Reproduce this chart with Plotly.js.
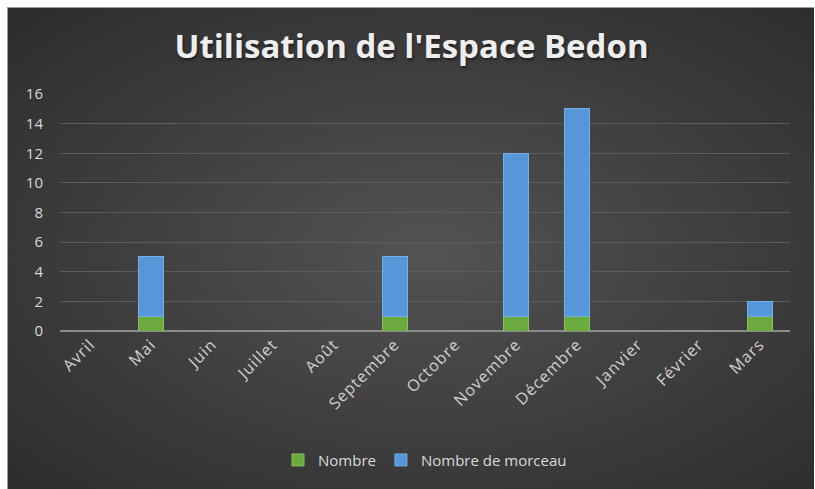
<!DOCTYPE html>
<html>
<head>
<meta charset="utf-8">
<script src="https://cdn.plot.ly/plotly-3.0.1.min.js"></script>
<style>
  html, body { margin: 0; padding: 0; background: #ffffff; width: 815px; height: 489px; overflow: hidden; }
  #bg { position: absolute; left: 7px; top: 7px; width: 806px; height: 490px;
        border-left: 1px solid #9a9a9a; border-top: 1px solid #9a9a9a;
        background: radial-gradient(ellipse at 52% 50%, #535353 0%, #454545 35%, #2c2c2c 100%); }
  #chart { position: absolute; left: 0; top: 0; width: 815px; height: 489px; }
  .xtick text { letter-spacing: 1px; }
</style>
</head>
<body>
<div id="bg"></div>
<div id="chart"></div>
<script>
const months = ["Avril", "Mai", "Juin", "Juillet", "Août", "Septembre", "Octobre", "Novembre", "Décembre", "Janvier", "Février", "Mars"];
const nombre = [0, 1, 0, 0, 0, 1, 0, 1, 1, 0, 0, 1];
const nombreMorceau = [0, 4, 0, 0, 0, 4, 0, 11, 14, 0, 0, 1];
const yTicks = [0, 2, 4, 6, 8, 10, 12, 14, 16];

const font = "'Open Sans', Lato, sans-serif";

const traces = [
  {
    type: "bar", name: "Nombre", x: months, y: nombre,
    marker: { color: "#6aaa3e", line: { color: "#86c25a", width: 1 } }
  },
  {
    type: "bar", name: "Nombre de morceau", x: months, y: nombreMorceau,
    marker: { color: "#5597d8", line: { color: "#76afe3", width: 1 } }
  }
];

const layout = {
  width: 815, height: 489,
  paper_bgcolor: "rgba(0,0,0,0)", plot_bgcolor: "rgba(0,0,0,0)",
  barmode: "stack", bargap: 0.59,
  margin: { l: 60, r: 25, t: 94, b: 158 },
  title: {
    text: "<b>Utilisation de l'Espace Bedon</b>",
    font: { family: font, size: 33, color: "#eeeeee", shadow: "1px 2px 3px rgba(0,0,0,0.5)" },
    x: 0.505, xanchor: "center", y: 0.905, yanchor: "middle"
  },
  xaxis: {
    type: "category", tickangle: -45,
    tickfont: { family: font, size: 16, color: "#d0d0d0" },
    showgrid: false, zeroline: false, showline: false, ticks: "",
    fixedrange: true
  },
  yaxis: {
    range: [0, 16], tickvals: yTicks, ticktext: yTicks.map(String),
    tickfont: { family: font, size: 15, color: "#d9d9d9" },
    showgrid: true, gridcolor: "#5c5c5c", gridwidth: 1,
    zeroline: true, zerolinecolor: "#8c8c8c", zerolinewidth: 1.5,
    showline: false, ticks: "", ticklabelstandoff: 16
  },
  legend: {
    orientation: "h", x: 0.5, xanchor: "center", y: -0.545, yanchor: "middle",
    font: { family: font, size: 15, color: "#d9d9d9" },
    bgcolor: "rgba(0,0,0,0)", traceorder: "normal", itemwidth: 30
  },
  showlegend: true
};

Plotly.newPlot("chart", traces, layout, { displayModeBar: false, staticPlot: true });
</script>
</body>
</html>
